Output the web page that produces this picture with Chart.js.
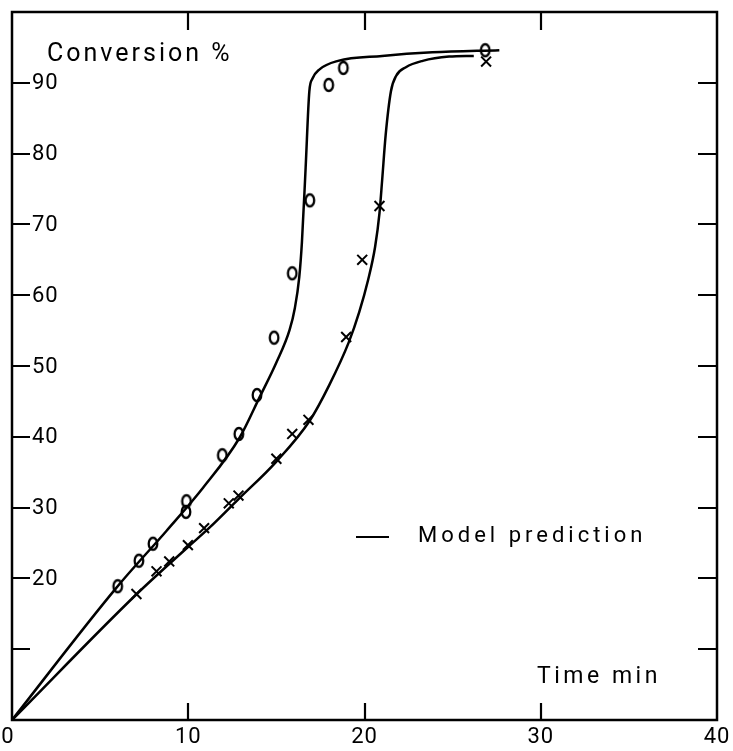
<!DOCTYPE html>
<html lang="en">
<head>
    <meta charset="UTF-8">
    <title>Conversion vs time</title>
    <script src="https://cdn.jsdelivr.net/npm/chart.js"></script>
    <style>
        html, body { margin: 0; padding: 0; background: #fff; }
        #wrap { width: 733px; height: 751px; }
    </style>
</head>
<body>
    <div id="wrap"><canvas id="convChart" width="733" height="751"></canvas></div>
    <script>
        // measured points (o) and (x), time in min vs conversion %
        const circleTime = [6.0, 7.2, 8.0, 9.87, 9.9, 11.93, 12.87, 13.9, 14.87, 15.9, 16.9, 17.97, 18.8, 26.85];
        const circleConv = [18.9, 22.5, 24.9, 29.4, 30.9, 37.4, 40.4, 45.9, 54.0, 63.1, 73.4, 89.7, 92.1, 94.6];
        const crossTime = [7.06, 8.2, 8.92, 9.98, 10.9, 12.3, 12.85, 15.0, 15.9, 16.82, 18.96, 19.87, 20.85, 26.9];
        const crossConv = [17.8, 21.0, 22.4, 24.7, 27.1, 30.6, 31.7, 36.9, 40.4, 42.4, 54.1, 65.0, 72.6, 93.0];

        // model prediction curves
        const modelATime = [0, 5.93, 8.76, 10.84, 12.92, 14.05, 15.0, 15.75, 16.05, 16.3, 16.45, 16.66, 16.87, 17.05, 17.45, 18.5, 21.0, 23.85, 27.65];
        const modelAConv = [0, 18.7, 26.7, 32.8, 39.9, 45.6, 50.5, 55.1, 58.2, 62.6, 67.5, 78.0, 88.8, 90.6, 91.9, 93.1, 93.8, 94.3, 94.6];
        const modelBTime = [0, 7.08, 9.97, 11.22, 12.85, 15.0, 16.9, 18.0, 19.1, 19.7, 20.2, 20.6, 20.85, 21.0, 21.2, 21.5, 21.8, 22.35, 23.3, 24.8, 26.2];
        const modelBConv = [0, 17.8, 24.4, 27.2, 31.2, 36.5, 42.3, 47.3, 53.3, 57.6, 62.1, 66.8, 71.6, 76.2, 82.6, 88.8, 91.0, 92.2, 93.1, 93.7, 93.8];

        const xTicks = [10, 20, 30];
        const xLabels = [0, 10, 20, 30, 40];
        const yTicks = [10, 20, 30, 40, 50, 60, 70, 80, 90];
        const yLabels = [20, 30, 40, 50, 60, 70, 80, 90];

        const pts = (xs, ys) => xs.map((x, i) => ({ x: x, y: ys[i] }));

        // oval "o" marker like the printed figure
        const oval = document.createElement('canvas');
        oval.width = 16; oval.height = 18;
        (function () {
            const c = oval.getContext('2d');
            c.strokeStyle = '#000';
            c.lineWidth = 2.3;
            c.beginPath();
            c.ellipse(8, 9, 4.3, 6, 0, 0, Math.PI * 2);
            c.stroke();
        })();

        const FONT = 'Roboto, "DejaVu Sans", sans-serif';

        const frame = {
            id: 'frame',
            afterDraw(chart) {
                const ctx = chart.ctx;
                const a = chart.chartArea;
                const xs = chart.scales.x, ys = chart.scales.y;
                ctx.save();
                ctx.strokeStyle = '#000';
                ctx.lineWidth = 2.5;
                ctx.strokeRect(a.left, a.top, a.right - a.left, a.bottom - a.top);

                ctx.lineWidth = 2.2;
                ctx.beginPath();
                xTicks.forEach(v => {
                    const px = Math.round(xs.getPixelForValue(v));
                    ctx.moveTo(px, a.bottom); ctx.lineTo(px, a.bottom - 17);
                    ctx.moveTo(px, a.top); ctx.lineTo(px, a.top + 18);
                });
                yTicks.forEach(v => {
                    const py = Math.round(ys.getPixelForValue(v));
                    ctx.moveTo(a.left, py); ctx.lineTo(a.left + 18, py);
                    ctx.moveTo(a.right, py); ctx.lineTo(a.right - 19, py);
                });
                ctx.stroke();

                ctx.fillStyle = '#000';
                ctx.font = '22px ' + FONT;
                ctx.letterSpacing = '1px';
                ctx.textBaseline = 'middle';
                ctx.textAlign = 'left';
                yLabels.forEach(v => {
                    ctx.fillText(String(v), a.left + 20, ys.getPixelForValue(v) + 1);
                });
                ctx.textAlign = 'center';
                xLabels.forEach(v => {
                    let px = xs.getPixelForValue(v);
                    if (v === 0) px = 8;
                    ctx.fillText(String(v), px, 737);
                });

                ctx.textAlign = 'left';
                ctx.font = '25px ' + FONT;
                ctx.letterSpacing = '3px';
                ctx.textBaseline = 'alphabetic';
                ctx.fillText('Conversion %', 47, 61);
                ctx.font = '23px ' + FONT;
                ctx.letterSpacing = '3.5px';
                ctx.textBaseline = 'middle';
                ctx.fillText('Time min', 537, 677);
                ctx.font = '22px ' + FONT;
                ctx.letterSpacing = '4px';
                ctx.fillText('Model prediction', 418, 536);
                ctx.letterSpacing = '0px';
                ctx.lineWidth = 2;
                ctx.beginPath();
                ctx.moveTo(356, 537); ctx.lineTo(389, 537);
                ctx.stroke();
                ctx.restore();
            }
        };

        new Chart(document.getElementById('convChart'), {
            type: 'scatter',
            data: {
                datasets: [
                    {
                        type: 'line', data: pts(modelATime, modelAConv),
                        borderColor: '#000', borderWidth: 2.5, pointRadius: 0,
                        cubicInterpolationMode: 'monotone', fill: false, order: 3
                    },
                    {
                        type: 'line', data: pts(modelBTime, modelBConv),
                        borderColor: '#000', borderWidth: 2.5, pointRadius: 0,
                        cubicInterpolationMode: 'monotone', fill: false, order: 3
                    },
                    {
                        data: pts(circleTime, circleConv),
                        pointStyle: oval, pointRadius: 6, order: 1
                    },
                    {
                        data: pts(crossTime, crossConv),
                        pointStyle: 'crossRot', pointRadius: 7,
                        borderColor: '#000', borderWidth: 2, order: 1
                    }
                ]
            },
            options: {
                responsive: false,
                animation: false,
                layout: { padding: { left: 12, top: 12, right: 16, bottom: 31 } },
                plugins: { legend: { display: false }, tooltip: { enabled: false } },
                scales: {
                    x: { type: 'linear', min: 0, max: 40, display: false },
                    y: { type: 'linear', min: 0, max: 100, display: false }
                }
            },
            plugins: [frame]
        });
    </script>
</body>
</html>
